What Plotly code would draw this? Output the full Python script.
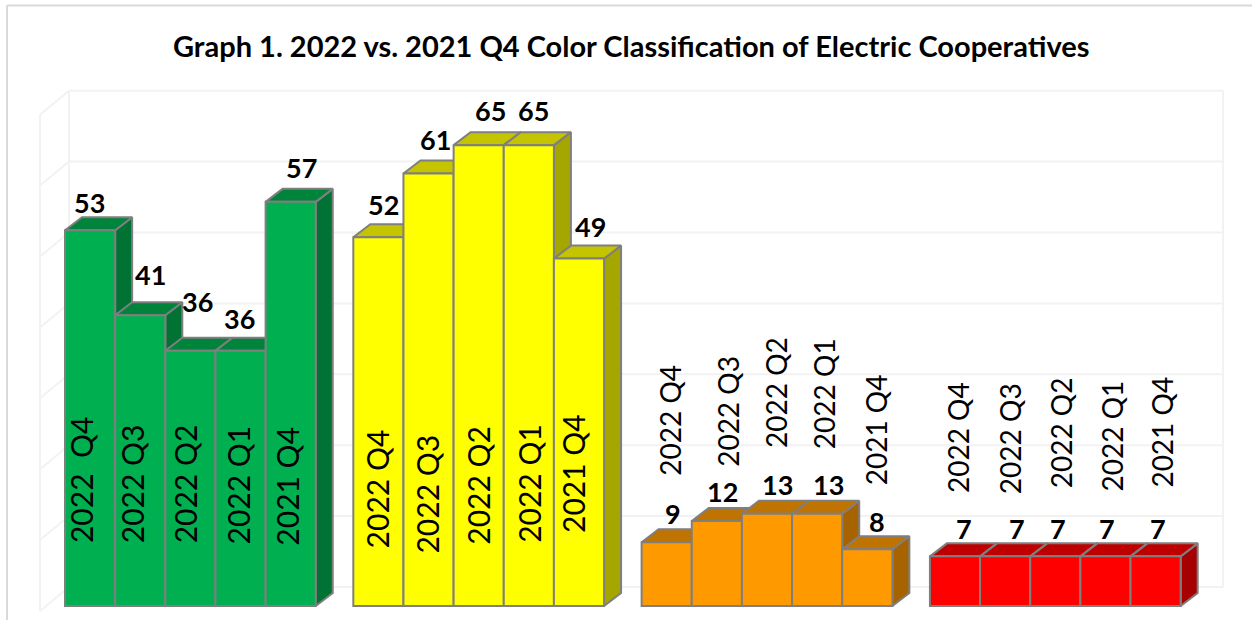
import plotly.graph_objects as go

# ---------- data ----------
TITLE = "Graph 1. 2022 vs. 2021 Q4 Color Classification of Electric Cooperatives"
PERIODS = ["2022 Q4", "2022 Q3", "2022 Q2", "2022 Q1", "2021 Q4"]
GREEN_LABELS = ["2022  Q4", "2022 Q3", "2022 Q2", "2022 Q1", "2021 Q4"]
GREEN = [53, 41, 36, 36, 57]
YELLOW = [52, 61, 65, 65, 49]
ORANGE = [9, 12, 13, 13, 8]
RED = [7, 7, 7, 7, 7]
GRID_LEVELS = [0, 10, 20, 30, 40, 50, 60, 70]

# ---------- styling / layout (pixels in a 1252x620 page) ----------
W, H = 1252, 620
PX_X0, PX_UNIT_X = 65.0, 50.15   # pixel of x=0, pixels per bar
PX_Y0, PX_UNIT_Y = 606.0, 7.09   # pixel of y=0, pixels per value unit
GROUP_PITCH = 5.749
DEPTH_X, DEPTH_Y = 17 / PX_UNIT_X, 13 / PX_UNIT_Y
EDGE = "#7f7f7f"
GRID = "#f2f2f2"

GROUPS = [
    dict(values=GREEN, labels=GREEN_LABELS, front="#00B050", top="#00843C", side="#007334",
         cat_size=30,
         val_shift=[(-1, 28), (10, 41), (7, 49), (-1, 32), (11, 34)],
         cat_shift=[(-9, 126), (-8, 122), (-5, 122), (-3, 121), (-4, 120)]),
    dict(values=YELLOW, labels=PERIODS, front="#FFFF00", top="#C4C400", side="#A6A600",
         cat_size=30,
         val_shift=[(5, 33), (7, 34), (12, 35), (5, 35), (12, 32)],
         cat_shift=[(-1, 117), (-2, 112), (-1, 121), (0, 123), (-6, 133)]),
    dict(values=ORANGE, labels=PERIODS, front="#FF9900", top="#BF7300", side="#A66300",
         cat_size=28,
         val_shift=[(6, 29), (6, 29), (10, 29), (11, 29), (10, 28)],
         cat_shift=[(3, 186), (11, 195), (9, 213), (7, 212), (9, 176)]),
    dict(values=RED, labels=PERIODS, front="#FF0000", top="#BF0000", side="#A60000",
         cat_size=28,
         val_shift=[(9, 28), (12, 28), (3, 28), (2, 28), (2, 28)],
         cat_shift=[(3, 168), (5, 167), (6, 173), (7, 170), (6, 174)]),
]

x_range = [-PX_X0 / PX_UNIT_X, (W - PX_X0) / PX_UNIT_X]
y_range = [-(H - PX_Y0) / PX_UNIT_Y, PX_Y0 / PX_UNIT_Y]

fig = go.Figure()


def poly(xs, ys, fill, line=EDGE, width=2):
    fig.add_trace(go.Scatter(x=xs, y=ys, mode="lines", fill="toself", fillcolor=fill,
                             line=dict(color=line, width=width), hoverinfo="skip",
                             showlegend=False))


def wall_line(xs, ys):
    fig.add_trace(go.Scatter(x=xs, y=ys, mode="lines", line=dict(color=GRID, width=2),
                             hoverinfo="skip", showlegend=False))


# walls and gridlines
wall_left = (40 - PX_X0) / PX_UNIT_X
wall_back = (69 - PX_X0) / PX_UNIT_X
wall_right = (1223 - PX_X0) / PX_UNIT_X
front_off = (PX_Y0 - 611) / PX_UNIT_Y
back_off = (PX_Y0 - 587) / PX_UNIT_Y
for lv in GRID_LEVELS:
    wall_line([wall_left, wall_back, wall_right],
              [lv + front_off, lv + back_off, lv + back_off])
top_lv = GRID_LEVELS[-1]
wall_line([wall_left, wall_left], [front_off, top_lv + front_off])
wall_line([wall_back, wall_back], [back_off, top_lv + back_off])
wall_line([wall_right, wall_right], [back_off, top_lv + back_off])

# depth faces (tops and sides), painted left to right
for g, grp in enumerate(GROUPS):
    for i, v in enumerate(grp["values"]):
        xl = g * GROUP_PITCH + i
        xr = xl + 1
        poly([xr, xr + DEPTH_X, xr + DEPTH_X, xr, xr],
             [0, DEPTH_Y, v + DEPTH_Y, v, 0], grp["side"])
        poly([xl, xl + DEPTH_X, xr + DEPTH_X, xr, xl],
             [v, v + DEPTH_Y, v + DEPTH_Y, v, v], grp["top"])

# front faces: real bars on an overlaid axis pair so they sit above the depth faces
annotations = []
for g, grp in enumerate(GROUPS):
    centres = [g * GROUP_PITCH + i + 0.5 for i in range(len(grp["values"]))]
    fig.add_trace(go.Bar(x=centres, y=grp["values"], width=1, xaxis="x2", yaxis="y2",
                         marker=dict(color=grp["front"], line=dict(color=EDGE, width=2)),
                         hoverinfo="skip", showlegend=False))
    for c, v, lab, (vx, vy), (cx, cy) in zip(centres, grp["values"], grp["labels"],
                                             grp["val_shift"], grp["cat_shift"]):
        annotations.append(dict(x=c, y=v, xref="x2", yref="y2", text=f"<b>{v}</b>",
                                showarrow=False, xshift=vx, yshift=vy,
                                font=dict(family="Lato", size=27, color="#000000")))
        annotations.append(dict(x=c, y=0, xref="x2", yref="y2", text=lab, textangle=-90,
                                showarrow=False, xshift=cx, yshift=cy,
                                font=dict(family="Lato", size=grp["cat_size"], color="#000000")))

annotations.append(dict(x=630.5 / W, y=1 - 45 / H, xref="paper", yref="paper",
                        xanchor="center", yanchor="middle",
                        text=f"<b>{TITLE}</b>", showarrow=False,
                        font=dict(family="Lato", size=29, color="#000000")))

axis = dict(visible=False, showgrid=False, zeroline=False, fixedrange=True)
border = dict(type="line", xref="paper", yref="paper", layer="below",
              line=dict(color="#d9d9d9", width=2))
fig.update_layout(
    width=W, height=H, margin=dict(l=0, r=0, t=0, b=0),
    paper_bgcolor="#ffffff", plot_bgcolor="rgba(0,0,0,0)",
    barmode="overlay", showlegend=False,
    xaxis=dict(axis, range=x_range, domain=[0, 1]),
    yaxis=dict(axis, range=y_range, domain=[0, 1]),
    xaxis2=dict(axis, range=x_range, overlaying="x", anchor="y2"),
    yaxis2=dict(axis, range=y_range, overlaying="y", anchor="x2"),
    annotations=annotations,
    shapes=[dict(border, x0=7 / W, x1=1, y0=1 - 5.5 / H, y1=1 - 5.5 / H),
            dict(border, x0=7 / W, x1=7 / W, y0=0, y1=1 - 5.5 / H)],
)
fig.write_html(
    "out.html",
    config=dict(displayModeBar=False),
    post_script="document.body.style.margin='0';document.documentElement.style.overflow='hidden';",
)
